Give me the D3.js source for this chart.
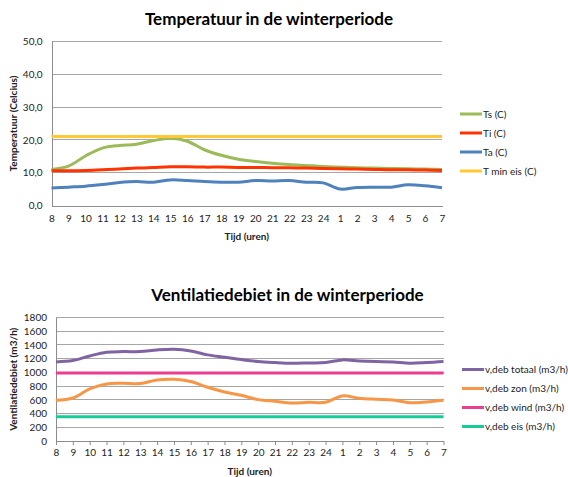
<!DOCTYPE html>
<html><head><meta charset="utf-8">
<script src="https://cdn.jsdelivr.net/npm/d3@7"></script>
<style>
html,body{margin:0;padding:0;background:#fff;}
text{font-family:Lato,"Open Sans",sans-serif;fill:#222;}
</style></head>
<body><svg id="c" width="568" height="477"></svg>
<script>
const hours = ["8","9","10","11","12","13","14","15","16","17","18","19","20","21","22","23","24","1","2","3","4","5","6","7"];

const tempTicks = [0,10,20,30,40,50];
const Ts = [11.0,12.0,15.1,17.5,18.3,18.7,19.8,20.5,19.6,17.0,15.3,14.1,13.4,12.9,12.5,12.2,11.9,11.7,11.5,11.4,11.3,11.2,11.1,11.0];
const Ti = [10.6,10.6,10.7,10.9,11.1,11.4,11.6,11.8,11.8,11.7,11.7,11.6,11.6,11.5,11.5,11.4,11.3,11.2,11.1,11.0,10.9,10.9,10.8,10.7];
const Ta = [5.3,5.6,5.9,6.4,7.0,7.3,7.1,7.8,7.6,7.3,7.1,7.1,7.6,7.5,7.6,7.1,6.9,5.0,5.5,5.6,5.6,6.3,6.0,5.4];
const Tmin = hours.map(() => 21.0);

const ventTicks = [0,200,400,600,800,1000,1200,1400,1600,1800];
const vTotaal = [1153,1172,1240,1294,1303,1303,1328,1338,1313,1255,1221,1187,1158,1143,1133,1138,1143,1182,1167,1158,1153,1133,1143,1158];
const vZon = [593,627,759,832,841,837,890,900,866,783,715,666,603,579,554,564,564,657,623,608,598,559,569,593];
const vWind = hours.map(() => 990);
const vEis = hours.map(() => 355);

const svg = d3.select("#c");

function chart(cfg) {
  const g = svg.append("g");
  const x = d3.scalePoint().domain(hours).range([cfg.x0, cfg.x1]);
  const y = d3.scaleLinear().domain([0, cfg.ymax]).range([cfg.y0, cfg.y1]);

  g.append("text").attr("x", cfg.tx).attr("y", cfg.ty).attr("text-anchor","middle")
    .style("font-size","17px").style("font-weight","bold").style("fill","#000").text(cfg.title);

  g.selectAll(".grid").data(cfg.ticks.filter(d => d > 0)).join("line")
    .attr("x1", cfg.x0).attr("x2", cfg.x1).attr("y1", d => y(d)).attr("y2", d => y(d))
    .attr("stroke", "#a6a6a6").attr("stroke-width", 1).attr("shape-rendering","crispEdges");

  const ya = d3.axisLeft(y).tickValues(cfg.ticks).tickFormat(cfg.fmt).tickSize(0).tickPadding(cfg.ypad);
  const yg = g.append("g").attr("transform", `translate(${cfg.x0},0)`).call(ya);
  yg.select(".domain").attr("stroke","#8c8c8c").attr("shape-rendering","crispEdges");
  yg.selectAll("text").style("font-size","10px").style("fill","#222");

  const xa = d3.axisBottom(x).tickSize(cfg.xtick).tickPadding(cfg.xpad).tickSizeOuter(0);
  const xg = g.append("g").attr("transform", `translate(0,${cfg.y0})`).call(xa);
  xg.select(".domain").attr("stroke","#8c8c8c").attr("shape-rendering","crispEdges");
  xg.selectAll(".tick line").attr("stroke","#8c8c8c");
  xg.selectAll("text").style("font-size","10px").style("fill","#222");

  g.append("text").attr("x",(cfg.x0+cfg.x1)/2).attr("y",cfg.xty).attr("text-anchor","middle")
    .style("font-size","10px").style("font-weight","bold").text("Tijd (uren)");
  g.append("text").attr("transform",`translate(${cfg.ytx},${(cfg.y0+cfg.y1)/2}) rotate(-90)`)
    .attr("text-anchor","middle").style("font-size","10px").style("font-weight","bold").text(cfg.ylabel);

  const line = d3.line().x((d,i) => x(hours[i])).y(d => y(d)).curve(d3.curveCatmullRom.alpha(0.5));

  cfg.series.forEach(s => {
    g.append("path").datum(s.values).attr("d", line).attr("fill","none")
      .attr("stroke", s.color).attr("stroke-width", 3).attr("stroke-linejoin","round");
  });

  cfg.series.forEach((s,i) => {
    const ly = cfg.ly + i*cfg.lstep;
    g.append("line").attr("x1",cfg.lx).attr("x2",cfg.lx+22).attr("y1",ly).attr("y2",ly)
      .attr("stroke",s.color).attr("stroke-width",3);
    g.append("text").attr("x",cfg.lx+23).attr("y",ly).attr("dy","0.35em")
      .style("font-size","10px").text(s.name);
  });
}

chart({
  title:"Temperatuur in de winterperiode", tx:269, ty:25,
  x0:51.5, x1:442, y0:205.5, y1:41.5, ymax:50, ticks:tempTicks,
  fmt: d => d3.format(".1f")(d).replace(".", ","), ypad:9, xtick:0, xpad:9,
  xty:240, ytx:17, ylabel:"Temperatuur (Celcius)",
  lx:460, ly:114, lstep:19,
  series:[
    {name:"Ts (C)", values:Ts, color:"#9bbb59"},
    {name:"Ti (C)", values:Ti, color:"#ff3300"},
    {name:"Ta (C)", values:Ta, color:"#4f81bd"},
    {name:"T min eis (C)", values:Tmin, color:"#ffc935"}
  ]
});

chart({
  title:"Ventilatiedebiet in de winterperiode", tx:287.5, ty:301,
  x0:56, x1:443.5, y0:441, y1:317.5, ymax:1800, ticks:ventTicks,
  fmt: d => String(d), ypad:9, xtick:4, xpad:4,
  xty:475, ytx:17, ylabel:"Ventilatiedebiet (m3/h)",
  lx:462, ly:369.5, lstep:19,
  series:[
    {name:"v,deb totaal (m3/h)", values:vTotaal, color:"#8064a2"},
    {name:"v,deb zon (m3/h)", values:vZon, color:"#f79646"},
    {name:"v,deb wind (m3/h)", values:vWind, color:"#ec3d91"},
    {name:"v,deb eis (m3/h)", values:vEis, color:"#14cc96"}
  ]
});
</script></body></html>
